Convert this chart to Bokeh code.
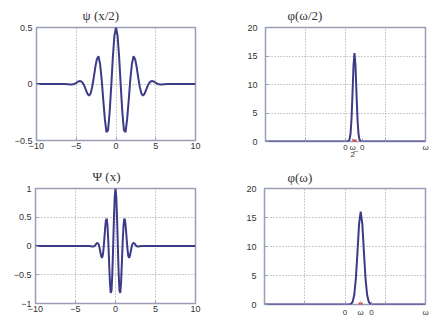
import numpy as np
from bokeh.plotting import figure
from bokeh.layouts import column, row
from bokeh.models import FixedTicker
from bokeh.embed import file_html
from bokeh.resources import INLINE

# ---------------- data ----------------
# psi(x/2): sampled at x = -6.4 .. 6.4 step 0.2 (flat beyond), plus ends at +-10
psi_half_pos = [0.500, 0.427, 0.233, -0.019, -0.250, -0.410, -0.425, -0.311, -0.142, 0.039,
                0.176, 0.245, 0.222, 0.150, 0.056, -0.029, -0.085, -0.103, -0.086, -0.050,
                -0.014, 0.012, 0.025, 0.026, 0.020, 0.010, 0.002, -0.003, -0.005, -0.005,
                -0.003, -0.002, 0.000]
psi_half_x = [-10.0] + [round(-6.4 + 0.2 * i, 2) for i in range(65)] + [10.0]
psi_half_y = [0.0] + psi_half_pos[:0:-1] + psi_half_pos + [0.0]

# psi(x): sampled at x = -3.2 .. 3.2 step 0.1, plus ends at +-10
psi_pos = [1.000, 0.854, 0.466, -0.038, -0.499, -0.782, -0.817, -0.621, -0.283, 0.077,
           0.351, 0.476, 0.444, 0.300, 0.111, -0.057, -0.170, -0.205, -0.172, -0.100,
           -0.028, 0.024, 0.050, 0.052, 0.039, 0.020, 0.004, -0.006, -0.010, -0.009,
           -0.006, -0.003, 0.000]
psi_x = [-10.0] + [round(-3.2 + 0.1 * i, 2) for i in range(65)] + [10.0]
psi_y = [0.0] + psi_pos[:0:-1] + psi_pos + [0.0]

# spectrum of psi(x/2)
spec_half_x = [-2.0, 0.06, 0.10, 0.125, 0.15, 0.175, 0.20, 0.225, 0.25, 0.275, 0.30, 0.325, 0.35, 0.39, 2.0]
spec_half_y = [0.0, 0.0, 0.33, 1.31, 3.9, 8.4, 13.3, 15.5, 13.3, 8.4, 3.9, 1.31, 0.33, 0.0, 0.0]
spec_half_centre = [0.225]

# spectrum of psi(x)
spec_x = [-2.0, 0.11, 0.15, 0.19, 0.23, 0.27, 0.31, 0.35, 0.39, 0.43, 0.47, 0.51, 0.55, 0.59, 0.63, 0.67, 2.0]
spec_y = [0.0, 0.0, 0.10, 0.46, 1.64, 4.45, 9.05, 13.9, 16.0, 13.9, 9.05, 4.45, 1.64, 0.46, 0.10, 0.0, 0.0]
spec_centre = [0.39]

left_xticks = [-10, -5, 0, 5, 10]
top_left_yticks = [-0.5, 0, 0.5]
bottom_left_yticks = [-1, -0.5, 0, 0.5, 1]
right_grid_xticks = [-2, -1, 0, 1, 2]
top_right_xticks = [-2, -1, 0, 0.18, 0.42, 1, 2]
top_right_xlabels = {-2: "", -1: "", 0: "0", 0.18: "\u03c9\u0332\n2", 0.42: "0", 1: "", 2: "\u03c9"}
bottom_right_xticks = [-2, -1, 0, 0.39, 0.66, 1, 2]
bottom_right_xlabels = {-2: "", -1: "", 0: "0", 0.39: "\u03c9", 0.66: "0", 1: "", 2: "\u03c9"}
right_yticks = [0, 5, 10, 15, 20]

titles = ["\u03c8 (x/2)", "\u03c6(\u03c9/2)", "\u03a8 (x)", "\u03c6(\u03c9)"]

LINE = "#3d3a88"
FRAME = "#9c9cb8"
GRID = "#9a9a9a"
TXT = "#333333"


def make_fig(title, xr, yr, xt, yt, gxt, left, right, top, bottom, fw, fh, offset, ystand, tstand):
    p = figure(frame_width=fw, frame_height=fh, x_range=xr, y_range=yr,
               output_backend="svg", toolbar_location=None,
               min_border_left=left, min_border_right=right,
               min_border_top=top, min_border_bottom=bottom,
               title=title, background_fill_color="white", border_fill_color="white")
    p.title.text_font = "Liberation Serif"
    p.title.text_font_size = "13px"
    p.title.text_font_style = "normal"
    p.title.text_color = TXT
    p.title.align = "left"
    p.title.vertical_align = "top"
    p.title.offset = offset
    p.title.standoff = tstand
    p.outline_line_color = FRAME
    p.outline_line_width = 1.5
    p.xaxis.ticker = FixedTicker(ticks=xt)
    p.yaxis.ticker = FixedTicker(ticks=yt)
    for ax in (p.xaxis, p.yaxis):
        ax.axis_line_color = None
        ax.major_tick_in = 3
        ax.major_tick_out = 0
        ax.major_tick_line_color = FRAME
        ax.minor_tick_line_color = None
        ax.major_label_text_font = "Liberation Sans"
        ax.major_label_text_font_size = "9px"
        ax.major_label_text_color = TXT
    p.xaxis.major_label_standoff = 2
    p.yaxis.major_label_standoff = ystand
    p.xgrid.ticker = FixedTicker(ticks=gxt)
    p.ygrid.ticker = FixedTicker(ticks=yt)
    for g in (p.xgrid, p.ygrid):
        g.grid_line_color = GRID
        g.grid_line_dash = "1 2"
        g.grid_line_width = 1
    return p


p1 = make_fig(titles[0], (-10, 10), (-0.5, 0.5), left_xticks, top_left_yticks, left_xticks,
              36, 27, 27, 20, 159, 113, 46, 4, 6)
p1.line(psi_half_x, psi_half_y, line_color=LINE, line_width=2)

p2 = make_fig(titles[1], (-2, 2), (0, 20), top_right_xticks, right_yticks, right_grid_xticks,
              43, 20, 26, 20, 160, 114, 22, 8, 5)
p2.xaxis.major_label_overrides = top_right_xlabels
p2.xaxis.major_label_text_font_size = "8px"
p2.xaxis.major_label_text_line_height = 0.85
p2.xaxis.major_label_standoff = 1
p2.line(spec_half_x, spec_half_y, line_color=LINE, line_width=2)
p2.scatter(spec_half_centre, [0] * len(spec_half_centre), marker="square", size=4,
           color="#e03a2a", line_color=None)

p3 = make_fig(titles[2], (-10, 10), (-1, 1), left_xticks, bottom_left_yticks, left_xticks,
              35, 27, 27, 25, 160, 115, 57, 4, 6)
p3.line(psi_x, psi_y, line_color=LINE, line_width=2)

p4 = make_fig(titles[3], (-2, 2), (0, 20), bottom_right_xticks, right_yticks, right_grid_xticks,
              42, 20, 26, 25, 161, 116, 23, 8, 4)
p4.xaxis.major_label_overrides = bottom_right_xlabels
p4.xaxis.major_label_text_font_size = "8px"
p4.xaxis.major_label_standoff = 3
p4.line(spec_x, spec_y, line_color=LINE, line_width=2)
p4.scatter(spec_centre, [0] * len(spec_centre), marker="square", size=4,
           color="#e03a2a", line_color=None)

layout = column(row(p1, p2, spacing=0), row(p3, p4, spacing=0), spacing=0)
open("out.html", "w").write(file_html(layout, INLINE))
